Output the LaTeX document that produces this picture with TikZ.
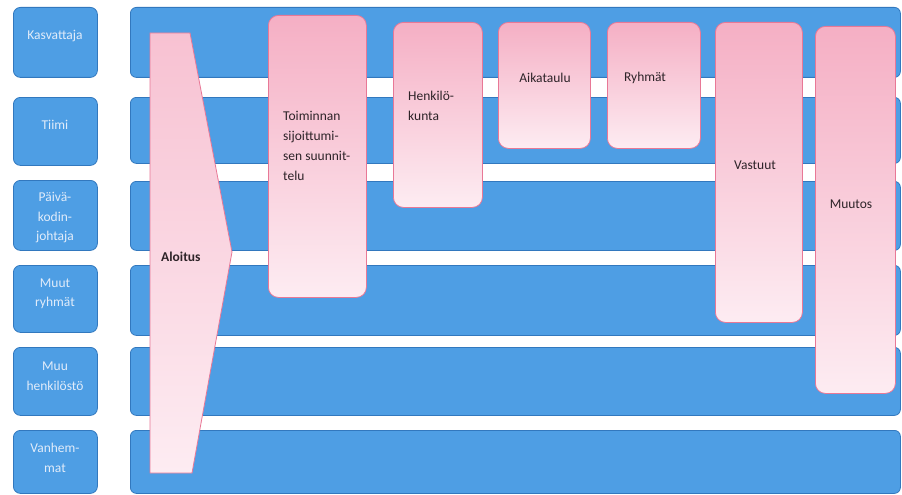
\documentclass[tikz,border=0pt]{standalone}
\usepackage{fontspec}
\setmainfont{Carlito}
\definecolor{laneblue}{RGB}{78,158,228}
\definecolor{laneedge}{RGB}{50,120,190}
\definecolor{labtext}{RGB}{225,236,250}
\definecolor{pinktop}{RGB}{245,175,196}
\definecolor{pinkbot}{RGB}{253,236,242}
\definecolor{pinkedge}{RGB}{232,120,150}
\definecolor{darktext}{RGB}{45,35,40}
\begin{document}
\begin{tikzpicture}[x=1pt,y=-1pt,
  lab/.style={draw=laneedge,line width=0.8pt,fill=laneblue,rounded corners=7pt,anchor=north west,inner sep=0pt},
  labtxt/.style={text=labtext,font=\fontsize{13.5}{19.5}\selectfont,align=center,inner sep=0pt},
  lane/.style={draw=laneedge,line width=0.8pt,fill=laneblue,rounded corners=6pt,anchor=north west,inner sep=0pt},
  pbox/.style={draw=pinkedge,line width=0.8pt,top color=pinktop,bottom color=pinkbot,rounded corners=10pt,anchor=north west,inner sep=0pt},
  ptext/.style={text=darktext,font=\fontsize{13.5}{20}\selectfont,align=left,anchor=north west,inner sep=0pt},
  ctext/.style={text=darktext,font=\fontsize{13.5}{20}\selectfont,inner sep=0pt}
]
\useasboundingbox (0,0) rectangle (902,495);
% left labels
\node[lab,minimum width=84pt,minimum height=70pt] (l1) at (13,7) {};
\node[lab,minimum width=84pt,minimum height=68pt] (l2) at (13,97) {};
\node[lab,minimum width=84pt,minimum height=70pt] (l3) at (13,180) {};
\node[lab,minimum width=84pt,minimum height=67pt] (l4) at (13,265) {};
\node[lab,minimum width=84pt,minimum height=68pt] (l5) at (13,347) {};
\node[lab,minimum width=84pt,minimum height=63pt] (l6) at (13,430) {};
\node[labtxt] (t1) at (55,36) {Kasvattaja};
\node[labtxt] (t2) at (55,125) {Tiimi};
\node[labtxt] (t3) at (55,218) {Päivä-\\kodin-\\johtaja};
\node[labtxt] (t4) at (55,294) {Muut\\ryhmät};
\node[labtxt] (t5) at (55,376) {Muu\\henkilöstö};
\node[labtxt] (t6) at (55,458) {Vanhem-\\mat};
% lanes
\node[lane,minimum width=770pt,minimum height=70pt] (s1) at (130,7) {};
\node[lane,minimum width=770pt,minimum height=66pt] (s2) at (130,97) {};
\node[lane,minimum width=770pt,minimum height=69pt] (s3) at (130,181) {};
\node[lane,minimum width=770pt,minimum height=70pt] (s4) at (130,265) {};
\node[lane,minimum width=770pt,minimum height=68pt] (s5) at (130,347) {};
\node[lane,minimum width=770pt,minimum height=63pt] (s6) at (130,430) {};
% Aloitus arrow
\draw[draw=pinkedge,line width=0.8pt,top color=pinktop!70!pinkbot,bottom color=pinkbot]
  (150,33) -- (190,33) -- (232,252) -- (192,473) -- (150,473) -- cycle;
\node[text=darktext,font=\fontsize{13.5}{20}\selectfont\bfseries,anchor=west,inner sep=0pt] (alo) at (161,257) {Aloitus};
% pink boxes
\node[pbox,minimum width=98pt,minimum height=282pt] (b1) at (268,15) {};
\node[ptext] (x1) at (283,111) {Toiminnan\\sijoittumi-\\sen suunnit-\\telu};
\node[pbox,minimum width=89pt,minimum height=185pt] (b2) at (393,22) {};
\node[ptext] (x2) at (408,91) {Henkilö-\\kunta};
\node[pbox,minimum width=92pt,minimum height=126pt] (b3) at (498,22) {};
\node[ctext] (x3) at (545,78) {Aikataulu};
\node[pbox,minimum width=93pt,minimum height=126pt] (b4) at (607,22) {};
\node[ctext] (x4) at (645,78) {Ryhmät};
\node[pbox,minimum width=87pt,minimum height=300pt] (b5) at (715,22) {};
\node[ctext] (x5) at (755,165) {Vastuut};
\node[pbox,minimum width=80pt,minimum height=367pt] (b6) at (815,26) {};
\node[ctext] (x6) at (851,204) {Muutos};
\end{tikzpicture}
\end{document}
